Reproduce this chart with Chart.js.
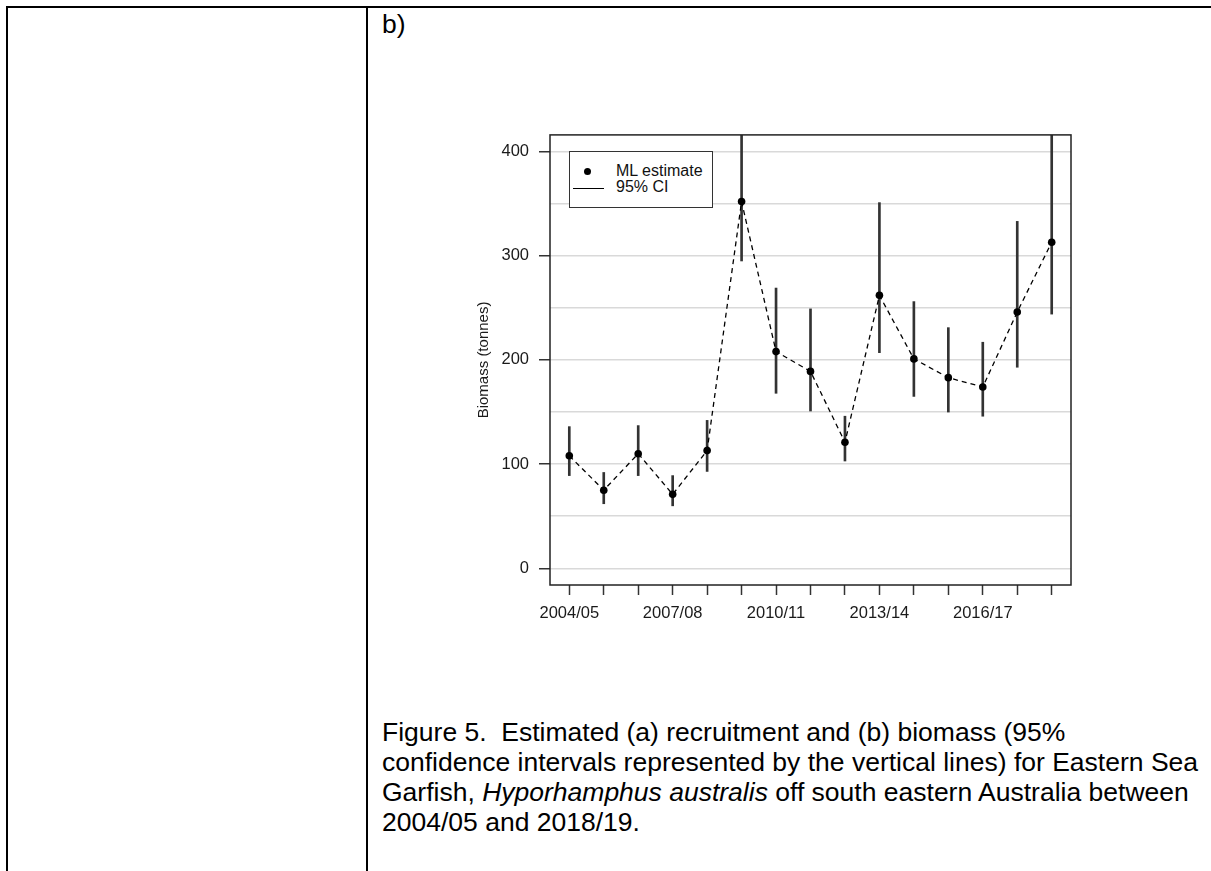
<!DOCTYPE html>
<html>
<head>
<meta charset="utf-8">
<script src="https://cdn.jsdelivr.net/npm/chart.js@4/dist/chart.umd.min.js"></script>
<style>
    body {
        margin: 0;
        width: 1211px;
        height: 871px;
        background: #fff;
        position: relative;
        overflow: hidden;
        font-family: "Liberation Sans", Arial, sans-serif;
    }
    .rule { position: absolute; background: #000; }
    .panel {
        position: absolute;
        left: 382px;
        font-size: 26.5px;
        line-height: 30px;
        color: #000;
    }
    #chartBox { position: absolute; left: 440px; top: 115px; }
    .legend {
        position: absolute;
        left: 569px;
        top: 151px;
        width: 142px;
        height: 55px;
        border: 1px solid #333;
        background: #fff;
        font-size: 16px;
        color: #111;
    }
    .legend .dot {
        position: absolute; left: 14px; top: 16px;
        width: 7px; height: 7px; border-radius: 50%; background: #000;
    }
    .legend .ln {
        position: absolute; left: 3px; top: 36px;
        width: 31px; height: 1.3px; background: #000;
    }
    .legend .t1 { position: absolute; left: 46px; top: 10px; }
    .legend .t2 { position: absolute; left: 46px; top: 26px; }
</style>
</head>
<body>
<div class="rule" style="left:6px;top:6px;width:1205px;height:2px"></div>
<div class="rule" style="left:6px;top:6px;width:2px;height:865px"></div>
<div class="rule" style="left:366px;top:6px;width:2px;height:865px"></div>

<div class="panel" style="top:9px">b)</div>

<div id="chartBox"><canvas id="chart" width="650" height="525"></canvas></div>

<div class="legend">
    <div class="dot"></div><div class="t1">ML estimate</div>
    <div class="ln"></div><div class="t2">95% CI</div>
</div>

<div class="panel" style="top:717px">
    Figure 5.&nbsp; Estimated (a) recruitment and (b) biomass (95%<br>
    confidence intervals represented by the vertical lines) for Eastern Sea<br>
    Garfish, <i>Hyporhamphus australis</i> off south eastern Australia between<br>
    2004/05 and 2018/19.
</div>

<script>
const seasons = [
    "2004/05", "2005/06", "2006/07", "2007/08", "2008/09", "2009/10", "2010/11", "2011/12",
    "2012/13", "2013/14", "2014/15", "2015/16", "2016/17", "2017/18", "2018/19",
]
const labelledSeasons = ["2004/05", "2007/08", "2010/11", "2013/14", "2016/17"]

// ML estimate of biomass (tonnes)
const biomass = [108, 75, 110, 71, 113, 352, 208, 189, 121, 262, 201, 183, 174, 246, 313]
// 95% CI
const ciLower = [89, 62, 89, 60, 93, 295, 168, 151, 103, 207, 165, 150, 146, 193, 244]
const ciUpper = [136, 92, 137, 89, 142, 430, 269, 249, 146, 351, 256, 231, 217, 333, 425]

const yGridValues = [0, 50, 100, 150, 200, 250, 300, 350, 400]
const yLabelStep = 100

Chart.defaults.font.family = "'Liberation Sans', Arial, sans-serif"
Chart.defaults.color = "#1a1a1a"

const plotBox = {
    id: "plotBox",
    afterDraw(chart) {
        const { ctx, chartArea } = chart
        ctx.save()
        ctx.strokeStyle = "#222"
        ctx.lineWidth = 1.5
        ctx.strokeRect(chartArea.left, chartArea.top, chartArea.right - chartArea.left, chartArea.bottom - chartArea.top)
        ctx.restore()
    },
}

const points = biomass.map((v, i) => ({ x: i, y: v }))

new Chart(document.getElementById("chart"), {
    type: "line",
    data: {
        datasets: [
            {
                type: "bar",
                label: "95% CI",
                data: seasons.map((s, i) => ({ x: i, y: [ciLower[i], ciUpper[i]] })),
                backgroundColor: "#333",
                barThickness: 2,
                order: 3,
            },
            {
                type: "line",
                label: "trend",
                data: points,
                borderColor: "#000",
                borderWidth: 1.3,
                borderDash: [5, 4],
                pointRadius: 0,
                fill: false,
                order: 2,
            },
            {
                type: "scatter",
                label: "ML estimate",
                data: points,
                backgroundColor: "#000",
                borderWidth: 0,
                pointRadius: 3.8,
                order: 1,
            },
        ],
    },
    options: {
        responsive: false,
        animation: false,
        devicePixelRatio: 1,
        layout: { padding: { top: 0, right: 19, left: 0, bottom: 0 } },
        plugins: {
            legend: { display: false },
            tooltip: { enabled: false },
        },
        scales: {
            x: {
                type: "linear",
                min: -0.56,
                max: 14.56,
                offset: false,
                afterBuildTicks: (scale) => {
                    scale.ticks = seasons.map((s, i) => ({ value: i }))
                },
                afterFit: (scale) => {
                    scale.height = 55
                },
                ticks: {
                    autoSkip: false,
                    maxRotation: 0,
                    padding: 9,
                    font: { size: 16.5 },
                    callback: (value) => (labelledSeasons.includes(seasons[value]) ? seasons[value] : ""),
                },
                grid: {
                    offset: false,
                    drawOnChartArea: false,
                    tickLength: 10,
                    tickColor: "#333",
                    tickWidth: 1.5,
                },
                border: { display: false },
            },
            y: {
                type: "linear",
                min: -16,
                max: 416,
                afterBuildTicks: (scale) => {
                    scale.ticks = yGridValues.map((v) => ({ value: v }))
                },
                afterFit: (scale) => {
                    scale.width = 110
                },
                ticks: {
                    padding: 10,
                    font: { size: 16.5 },
                    callback: (value) => (value % yLabelStep === 0 ? value : ""),
                },
                grid: {
                    color: "#d9d9d9",
                    lineWidth: 1.5,
                    tickLength: 11,
                    tickWidth: 1.5,
                    tickColor: (ctx) => (ctx.tick && ctx.tick.value % yLabelStep === 0 ? "#333" : "rgba(0,0,0,0)"),
                },
                border: { display: false },
                title: {
                    display: true,
                    text: "Biomass (tonnes)",
                    font: { size: 15 },
                    color: "#1a1a1a",
                    padding: { top: 35, bottom: 0 },
                },
            },
        },
    },
    plugins: [plotBox],
})
</script>
</body>
</html>
